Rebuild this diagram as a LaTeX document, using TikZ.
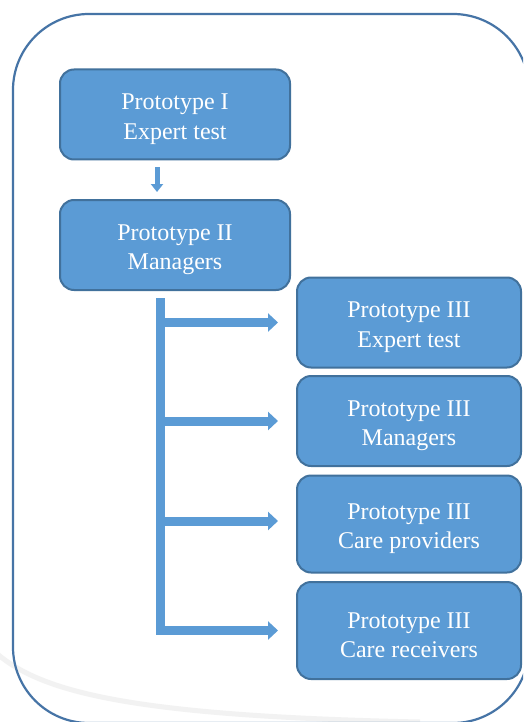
\documentclass[tikz,border=0pt]{standalone}
\usepackage{fontspec}
\setmainfont{Liberation Serif}
\usetikzlibrary{arrows.meta}
\definecolor{boxfill}{HTML}{5B9BD5}
\definecolor{boxline}{HTML}{41719C}
\definecolor{outerline}{HTML}{4674A6}
\newcommand\mytopstrut{\rule{0pt}{25pt}}
\tikzset{
  proto/.style={draw=boxline, line width=2pt, fill=boxfill, rounded corners=14pt,
    minimum width=230pt, minimum height=90pt, inner sep=0pt, align=center,
    text=white, font=\fontsize{24}{29.5}\selectfont},
  protoR/.style={proto, minimum width=224pt},
  sarrow/.style={draw=boxfill, line width=5pt, -{Triangle[width=12pt,length=8pt]},
    shorten <=7pt, shorten >=7pt},
  harrow/.style={draw=boxfill, line width=9pt, -{Triangle[width=18pt,length=10pt]},
    shorten >=18pt},
  bar/.style={draw=boxfill, line width=9pt}
}
\begin{document}
\begin{tikzpicture}[x=1pt,y=-1pt]
\useasboundingbox (0,0) rectangle (523,722);
\clip (0,0) rectangle (523,722);
\fill[white] (0,0) rectangle (523,722);
% faint watermark arc
\draw[gray!10, line width=5pt] (-5,652) .. controls (40,692) and (130,716) .. (420,722);
% outer frame
\draw[outerline, line width=2.2pt, rounded corners=76pt] (13,14) rectangle (529,723);
% boxes
\node[proto] (b1) at (175,114.5) {\mytopstrut Prototype I\\Expert test};
\node[proto] (b2) at (175,245) {\mytopstrut Prototype II\\Managers};
\node[protoR] (c1) at (409,322.5) {\mytopstrut Prototype III\\Expert test};
\node[protoR] (c2) at (409,421) {\mytopstrut Prototype III\\Managers};
\node[protoR, minimum height=97pt] (c3) at (409,524) {\mytopstrut Prototype III\\Care providers};
\node[protoR, minimum height=97pt] (c4) at (409,630.5) {\mytopstrut Prototype III\\Care receivers};
% connectors
\draw[sarrow] ([xshift=-18pt]b1.south) -- ([xshift=-18pt]b2.north);
\coordinate (bb) at (160.5,635);
\draw[bar] ([xshift=-14.5pt]b2.south) ++(0,7) -- (bb);
\draw[harrow] (bb |- c1.west) -- (c1.west);
\draw[harrow] (bb |- c2.west) -- (c2.west);
\draw[harrow] ([yshift=3pt]bb |- c3.west) -- ([yshift=3pt]c3.west);
\draw[harrow] (bb |- c4.west) -- (c4.west);
\end{tikzpicture}
\end{document}
